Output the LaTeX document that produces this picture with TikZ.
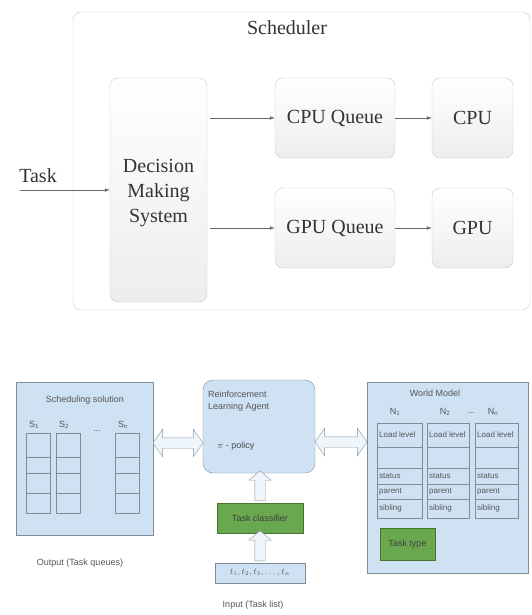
\documentclass[tikz,border=0pt]{standalone}
\usepackage{fontspec}
\setmainfont{Liberation Serif}
\setsansfont{Liberation Sans}
\usetikzlibrary{shapes.arrows,arrows.meta}
\definecolor{boxblue}{HTML}{CFE2F3}
\definecolor{lineblue}{HTML}{7F8C99}
\definecolor{boxgreen}{HTML}{6AA84F}
\definecolor{linegreen}{HTML}{45752F}
\definecolor{topline}{HTML}{CACACA}
\definecolor{txtgray}{HTML}{555555}
\tikzset{
    unit/.style={draw=topline, rounded corners=8pt, top color=white, bottom color=gray!14,
        align=center, inner sep=0pt, font=\fontsize{20}{25}\selectfont, text=black!80},
    flow/.style={-{Latex[length=5pt,width=3.5pt]}, draw=black!60},
    panel/.style={draw=lineblue, fill=boxblue, inner sep=0pt},
    greenbox/.style={draw=linegreen, fill=boxgreen, inner sep=0pt,
        font=\sffamily\fontsize{9}{10}\selectfont, text=black!75},
    small/.style={font=\sffamily\fontsize{9}{10}\selectfont, text=txtgray, inner sep=0pt},
    cell/.style={draw=lineblue, inner sep=0pt},
    fatarrow/.style={draw=lineblue!90, fill=boxblue!35, inner sep=5pt},
    sidearrow/.style={fatarrow, double arrow, double arrow head extend=8.5pt,
        double arrow tip angle=110},
    uparrow/.style={fatarrow, single arrow, single arrow head extend=6pt,
        single arrow tip angle=100, minimum height=30pt, rotate=90},
}
\begin{document}
\begin{tikzpicture}[x=1pt, y=-1pt]
    \useasboundingbox (0,0) rectangle (532,615);

    \node[draw=topline, rounded corners=8pt, minimum width=457pt, minimum height=298pt] (sched) at (301.5,161) {};
    \node[font=\fontsize{20}{25}\selectfont, text=black!80] (schedname) at (287,28) {Scheduler};
    \node[unit, minimum width=97pt, minimum height=224pt] (dms) at (158.5,190) {\\[-6pt]Decision\\Making\\System};
    \node[unit, minimum width=120pt, minimum height=80pt] (cpuq) at (335,118) {CPU Queue};
    \node[unit, minimum width=81pt, minimum height=80pt] (cpu) at (472.5,118) {CPU};
    \node[unit, minimum width=120pt, minimum height=80pt] (gpuq) at (335,228) {GPU Queue};
    \node[unit, minimum width=81pt, minimum height=80pt] (gpu) at (472.5,228) {GPU};
    \node[font=\fontsize{20}{25}\selectfont, text=black!80] (task) at (38,176) {Task};
    \coordinate (taskin) at (20,190);

    \draw[flow] (taskin) -- (dms.west);
    \draw[flow, shorten <=3pt] (dms.east |- cpuq.west) -- (cpuq.west);
    \draw[flow, shorten <=3pt] (dms.east |- gpuq.west) -- (gpuq.west);
    \draw[flow] (cpuq) -- (cpu);
    \draw[flow] (gpuq) -- (gpu);

    \node[panel, minimum width=137pt, minimum height=153pt] (sol) at (84.5,458.5) {};
    \node[small] (solname) at (85,400) {Scheduling solution};
    \foreach \x/\s in {26/1, 56/2, 115/n} {
        \node[small, anchor=west] at (\x+3,425) {S\textsubscript{\s}};
        \foreach \ya/\yb in {433/457, 457/473, 473/493, 493/513} {
            \draw[cell] (\x,\ya) rectangle (\x+24,\yb);
        }
    }
    \node[small] (soldots) at (97,431) {...};
    \node[small] (output) at (80,563) {Output (Task queues)};

    \node[panel, rounded corners=10pt, minimum width=112pt, minimum height=93pt] (agent) at (259,426.5) {};
    \node[small, anchor=north west, align=left] (agentname) at (208,391) {Reinforcement\\[2pt]Learning Agent};
    \node[small, text=black!70] (policy) at (236,446) {$\pi$ - policy};
    \node[greenbox, minimum width=86pt, minimum height=30pt] (classifier) at (260,518) {Task classifier};
    \node[panel, minimum width=90pt, minimum height=20pt, font=\fontsize{9}{10}\selectfont, text=txtgray] (input) at (260,573) {$t_1, t_2, t_3, \ldots, t_n$};
    \node[small] (inputname) at (253,605) {Input (Task list)};

    \node[panel, minimum width=161pt, minimum height=191pt] (world) at (447.5,477.5) {};
    \node[small] (worldname) at (435,393) {World Model};
    \foreach \x/\w/\s in {377/45/1, 427/42/2, 475/43/n} {
        \node[small] at (\x+18,412) {N\textsubscript{\s}};
        \foreach \ya/\yb/\t in {423/447/Load level, 447/468/{}, 468/484/status, 484/499/parent, 499/518/sibling} {
            \draw[cell] (\x,\ya) rectangle (\x+\w,\yb);
            \node[small, font=\sffamily\fontsize{8}{9}\selectfont, anchor=west] at (\x+2,{(\ya+\yb)/2}) {\t};
        }
    }
    \node[small] (worlddots) at (471,413) {...};
    \node[greenbox, minimum width=55pt, minimum height=32pt] (tasktype) at (407.5,544) {Task type};

    \node[sidearrow, minimum height=50pt] (solarrow) at (178,443) {};
    \node[sidearrow, minimum height=52pt] (worldarrow) at (341,442) {};
    \node[uparrow] (classarrow) at (260,488) {};
    \node[uparrow] (inputarrow) at (260,548) {};
\end{tikzpicture}
\end{document}
